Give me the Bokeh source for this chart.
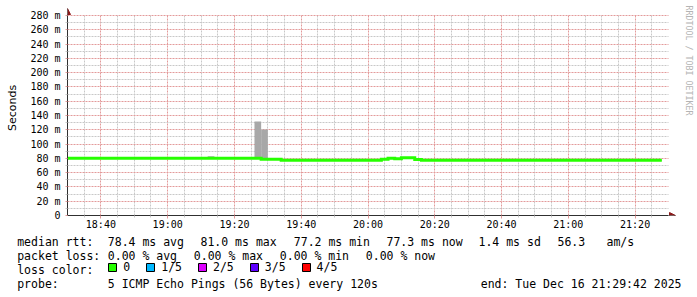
import math
import pandas as pd
from bokeh.plotting import figure
from bokeh.layouts import column
from bokeh.models import (Range1d, FixedTicker, DatetimeTickFormatter, CustomJSTickFormatter,
                          Label, Legend, LegendItem, Arrow, NormalHead)
from bokeh.embed import file_html
from bokeh.resources import INLINE

# ---------------- data ----------------
DAY = "2025-12-16"
START = "18:30"
END = "21:30"
STEP_MIN = 2

# median RTT per 2-minute step (ms), 18:30 .. 21:28
median_ms = [
    80.0, 80.0, 80.0, 80.0, 80.0, 80.0, 80.0, 80.0, 80.0, 80.0,
    80.0, 80.0, 80.0, 80.0, 80.0, 80.0, 80.0, 80.0, 80.0, 80.0,
    80.0, 80.0, 80.0, 80.0, 80.0, 80.0, 80.0, 80.0, 80.0, 78.6,
    78.6, 78.6, 77.3, 77.3, 77.3, 77.3, 77.3, 77.3, 77.3, 77.3,
    77.2, 77.3, 77.3, 77.3, 77.3, 77.3, 77.3, 78.6, 80.0, 79.6,
    81.0, 81.0, 78.5, 77.3, 77.3, 77.3, 77.3, 77.3, 77.3, 77.3,
    77.3, 77.3, 77.3, 77.3, 77.3, 77.3, 77.3, 77.3, 77.3, 77.3,
    77.3, 77.3, 77.3, 77.3, 77.3, 77.3, 77.3, 77.3, 77.3, 77.3,
    77.3, 77.3, 77.3, 77.3, 77.3, 77.3, 77.3, 77.3, 77.3,
]
# smoke: slowest ping per step (ms)
ping_max_ms = [
    80.6, 80.6, 80.6, 80.6, 80.6, 80.6, 80.6, 80.6, 80.6, 80.6,
    80.6, 80.6, 80.6, 80.6, 80.6, 80.6, 80.6, 80.6, 80.6, 80.6,
    80.6, 82.8, 80.6, 80.6, 80.6, 80.6, 80.6, 80.6, 131.6, 120.4,
    79.2, 79.2, 77.9, 77.9, 77.9, 77.9, 77.9, 77.9, 77.9, 77.9,
    77.8, 77.9, 77.9, 77.9, 77.9, 77.9, 77.9, 79.2, 80.6, 80.2,
    81.6, 81.6, 79.1, 77.9, 77.9, 77.9, 77.9, 77.9, 77.9, 77.9,
    77.9, 77.9, 77.9, 77.9, 77.9, 77.9, 77.9, 77.9, 77.9, 77.9,
    77.9, 77.9, 77.9, 77.9, 77.9, 77.9, 77.9, 77.9, 77.9, 77.9,
    77.9, 77.9, 77.9, 77.9, 77.9, 77.9, 77.9, 77.9, 77.9,
]
# smoke: fastest ping per step (ms)
ping_min_ms = [
    79.5, 79.5, 79.5, 79.5, 79.5, 79.5, 79.5, 79.5, 79.5, 79.5,
    79.5, 79.5, 79.5, 79.5, 79.5, 79.5, 79.5, 79.5, 79.5, 79.5,
    79.5, 79.5, 79.5, 79.5, 79.5, 79.5, 79.5, 79.5, 79.5, 78.1,
    78.1, 78.1, 76.8, 76.8, 76.8, 76.8, 76.8, 76.8, 76.8, 76.8,
    76.7, 76.8, 76.8, 76.8, 76.8, 76.8, 76.8, 78.1, 79.5, 79.1,
    80.5, 80.5, 78.0, 76.8, 76.8, 76.8, 76.8, 76.8, 76.8, 76.8,
    76.8, 76.8, 76.8, 76.8, 76.8, 76.8, 76.8, 76.8, 76.8, 76.8,
    76.8, 76.8, 76.8, 76.8, 76.8, 76.8, 76.8, 76.8, 76.8, 76.8,
    76.8, 76.8, 76.8, 76.8, 76.8, 76.8, 76.8, 76.8, 76.8,
]

x_tick_labels = ["18:40", "19:00", "19:20", "19:40", "20:00", "20:20", "20:40", "21:00", "21:20"]
y_ticks = [0, 20, 40, 60, 80, 100, 120, 140, 160, 180, 200, 220, 240, 260, 280]
y_minor_ticks = [10, 30, 50, 70, 90, 110, 130, 150, 170, 190, 210, 230, 250, 270]

loss_labels = ["0", "1/5", "2/5", "3/5", "4/5"]
loss_colors = ["#26ff00", "#00b8ff", "#dd00ff", "#5e00ff", "#ff0000"]

legend_line1 = ["median rtt:", "78.4 ms avg", "81.0 ms max", "77.2 ms min", "77.3 ms now",
                "1.4 ms sd", "56.3", "am/s"]
legend_line2 = ["packet loss:", "0.00 % avg", "0.00 % max", "0.00 % min", "0.00 % now"]
legend_line3 = ["loss color:"]
legend_line4 = ["probe:", "5 ICMP Echo Pings (56 Bytes) every 120s"]
end_text = "end: Tue Dec 16 21:29:42 2025"
watermark = "RRDTOOL / TOBI OETIKER"

# ---------------- layout ----------------
W, H = 697, 297
H1 = 232                      # graph part
FL, FR, FT, FB = 67, 668, 15, 215   # data area in page pixels
MONO = "DejaVu Sans Mono"
MGRID = "#e39a9a"
GRID = "#c8c8c8"
DASH = "2 1"
AXIS = "#303030"
ARROW = "#8b1a1a"

t0 = pd.Timestamp(f"{DAY} {START}")
t1 = pd.Timestamp(f"{DAY} {END}")
EPOCH = pd.Timestamp("1970-01-01")


def ms(ts):
    return (ts - EPOCH) / pd.Timedelta(milliseconds=1)


X0, X1 = ms(t0), ms(t1)
YMIN, YMAX = 0, 280


def dx(px):
    return X0 + (px - FL) / (FR - FL) * (X1 - X0)


def dy(py):
    return YMIN + (FB - py) / (FB - FT) * (YMAX - YMIN)


starts = pd.date_range(t0, periods=len(median_ms), freq=f"{STEP_MIN}min")
ends = starts + pd.Timedelta(minutes=STEP_MIN)

# frame spans right/top margins too, so arrows and watermark are not clipped
p = figure(width=W, height=H1, x_axis_type="datetime",
           x_range=Range1d(X0, dx(W)), y_range=Range1d(YMIN, dy(0)),
           output_backend="svg", toolbar_location=None, title=None,
           min_border_left=FL, min_border_right=0,
           min_border_top=0, min_border_bottom=H1 - FB)
p.frame_align = False
p.background_fill_color = "white"
p.border_fill_color = "white"
p.outline_line_color = None

# ticks
x_major = [ms(pd.Timestamp(f"{DAY} {l}")) for l in x_tick_labels]
x_minor = [ms(t) for t in pd.date_range(t0 + pd.Timedelta(minutes=5), t1 - pd.Timedelta(minutes=5), freq="5min")
           if t.minute % 20 != 0]
p.xaxis.ticker = FixedTicker(ticks=x_major, minor_ticks=x_minor)
p.yaxis.ticker = FixedTicker(ticks=y_ticks, minor_ticks=y_minor_ticks)
p.xaxis.formatter = DatetimeTickFormatter(minutes="%H:%M", hourmin="%H:%M", hours="%H:%M")
p.yaxis.formatter = CustomJSTickFormatter(code="return tick == 0 ? '0' : tick.toFixed(0) + ' m';")
p.xaxis.bounds = (X0, X1)
p.yaxis.bounds = (YMIN, YMAX)

for g in (p.xgrid, p.ygrid):
    g.grid_line_color = MGRID
    g.grid_line_dash = DASH
    g.grid_line_width = 1
    g.minor_grid_line_color = GRID
    g.minor_grid_line_dash = DASH
    g.minor_grid_line_width = 1
p.xgrid.cross_bounds = (YMIN, YMAX)
p.ygrid.cross_bounds = (X0, X1)

for ax in (p.xaxis, p.yaxis):
    ax.axis_line_color = AXIS
    ax.major_label_text_font = MONO
    ax.major_label_text_font_size = "10px"
    ax.major_label_text_color = "black"
    ax.major_tick_in = 0
    ax.minor_tick_in = 0

p.xaxis.major_tick_out = 3
p.xaxis.minor_tick_out = 2
p.xaxis.major_tick_line_color = MGRID
p.xaxis.minor_tick_line_color = GRID
p.xaxis.major_label_standoff = 0

p.yaxis.major_tick_out = 2
p.yaxis.minor_tick_out = 2
p.yaxis.major_tick_line_color = MGRID
p.yaxis.minor_tick_line_color = GRID
p.yaxis.major_label_standoff = 5
p.yaxis.axis_label = "Seconds"
p.yaxis.axis_label_text_font = "DejaVu Sans"
p.yaxis.axis_label_text_font_size = "11px"
p.yaxis.axis_label_text_font_style = "normal"
p.yaxis.axis_label_text_color = "black"
p.yaxis.axis_label_standoff = 8

# smoke
p.quad(left=starts, right=ends, bottom=ping_min_ms, top=ping_max_ms,
       fill_color="#a8a8a8", line_color=None)

# median line (loss 0 colour)
step_x = list(starts) + [ends[-1]]
step_y = list(median_ms) + [median_ms[-1]]
p.step(step_x, step_y, mode="after", line_color=loss_colors[0], line_width=3, line_join="miter")

# axis arrows
p.add_layout(Arrow(end=NormalHead(size=6, fill_color=ARROW, line_color=ARROW),
                   x_start=X0, y_start=YMAX, x_end=X0, y_end=dy(8),
                   line_color=AXIS, line_width=1))
p.add_layout(Arrow(end=NormalHead(size=6, fill_color=ARROW, line_color=ARROW),
                   x_start=X1, y_start=YMIN, x_end=dx(675), y_end=YMIN,
                   line_color=AXIS, line_width=1))

p.add_layout(Label(x=dx(688), y=dy(5), text=watermark, text_font=MONO, text_font_size="8.3px",
                   text_color="#b4b4b4", text_align="left", text_baseline="middle",
                   angle=-math.pi / 2))

# ---------------- legend block ----------------
H2 = H - H1
q = figure(width=W, height=H2, x_range=Range1d(0, W), y_range=Range1d(H, H1),
           x_axis_location=None, y_axis_location=None, output_backend="svg",
           toolbar_location=None, title=None, min_border=0)
q.frame_align = False
q.background_fill_color = "white"
q.border_fill_color = "white"
q.outline_line_color = None
q.grid.visible = False


def add_text(text, px, py, align="left"):
    q.add_layout(Label(x=px, y=py, text=text, text_font=MONO, text_font_size="11.5px",
                       text_color="black", text_align=align, text_baseline="middle"))


line1_x = [16.7, 107.3, 200, 293.3, 386, 478, 557, 606]
line2_x = [16.7, 107.3, 193.3, 279.3, 365.3]
rows_y = [241.3, 255.3, 269.3, 283.7]
for t, x in zip(legend_line1, line1_x):
    add_text(t, x, rows_y[0])
for t, x in zip(legend_line2, line2_x):
    add_text(t, x, rows_y[1])
add_text(legend_line3[0], 16.7, rows_y[2])
add_text(legend_line4[0], 16.7, rows_y[3])
add_text(legend_line4[1], 107.3, rows_y[3])
add_text(end_text, 681, rows_y[3], align="right")

items = []
NAN = float("nan")
for lab, col in zip(loss_labels, loss_colors):
    r = q.quad(left=[NAN], right=[NAN], top=[NAN], bottom=[NAN], fill_color=col, line_color="black")
    items.append(LegendItem(label=lab, renderers=[r], index=0))
leg = Legend(items=items, orientation="horizontal", location=(107.3, H - 274.3),
             padding=0, margin=0, spacing=15, label_standoff=6,
             glyph_width=10, glyph_height=10, label_width=0, label_height=10,
             border_line_color=None, background_fill_alpha=0,
             label_text_font=MONO, label_text_font_size="11.5px", label_text_color="black")
q.add_layout(leg)

layout = column(p, q, spacing=0)
open("out.html", "w").write(file_html(layout, INLINE))
